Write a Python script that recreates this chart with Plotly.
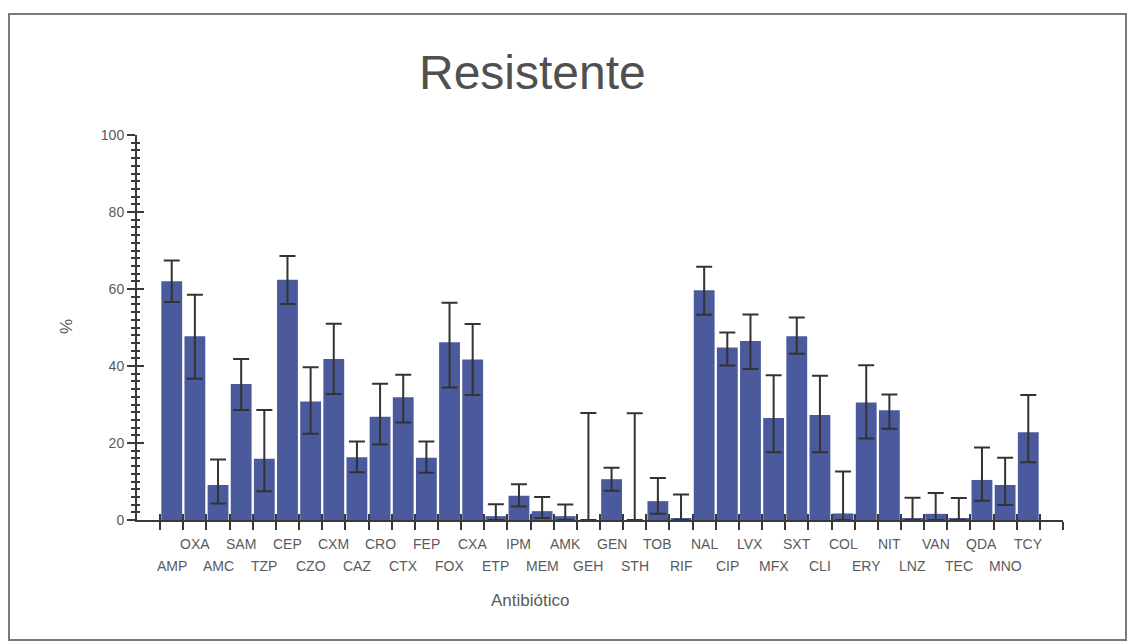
import numpy as np
import plotly.graph_objects as go

# Antibiotic codes, in plotting order
categories = ["AMP", "OXA", "AMC", "SAM", "TZP", "CEP", "CZO", "CXM", "CAZ", "CRO",
              "CTX", "FEP", "FOX", "CXA", "ETP", "IPM", "MEM", "AMK", "GEH", "GEN",
              "STH", "TOB", "RIF", "NAL", "CIP", "LVX", "MFX", "SXT", "CLI", "COL",
              "ERY", "NIT", "LNZ", "VAN", "TEC", "QDA", "MNO", "TCY"]

# Percentage resistant
resist_pct = [62.0, 47.7, 9.1, 35.3, 15.9, 62.4, 30.8, 41.8, 16.3, 26.8,
              31.9, 16.2, 46.2, 41.7, 1.0, 6.3, 2.3, 1.0, 0.0, 10.6,
              0.0, 4.9, 0.5, 59.7, 44.8, 46.5, 26.5, 47.7, 27.3, 1.7,
              30.5, 28.5, 0.5, 1.6, 0.5, 10.4, 9.1, 22.8]

# Confidence interval bounds (%)
ci_low = [56.6, 36.7, 4.3, 28.6, 7.5, 56.1, 22.4, 32.7, 12.4, 19.6,
          25.3, 12.3, 34.4, 32.5, 0.0, 3.5, 0.5, 0.0, 0.0, 7.6,
          0.0, 1.6, 0.0, 53.3, 40.1, 39.2, 17.6, 43.2, 17.6, 0.0,
          21.2, 23.7, 0.0, 0.0, 0.0, 5.0, 3.9, 15.0]
ci_high = [67.4, 58.5, 15.7, 41.8, 28.6, 68.6, 39.7, 51.0, 20.4, 35.4,
           37.7, 20.4, 56.4, 50.9, 4.1, 9.3, 6.0, 4.0, 27.8, 13.6,
           27.7, 10.9, 6.6, 65.8, 48.7, 53.4, 37.6, 52.6, 37.5, 12.6,
           40.2, 32.6, 5.8, 7.0, 5.7, 18.8, 16.2, 32.5]

y_ticks = [0, 20, 40, 60, 80, 100]

# Figure geometry (pixels)
W, H = 1128, 642
ML, MR, MT, MB = 137, 65, 135, 122
PW, PH = W - ML - MR, H - MT - MB


def px_x(px):
    return (px - ML) / PW


def px_y(py):
    return (H - MB - py) / PH


n = len(categories)
xpos = np.arange(n)
vals = np.array(resist_pct)
err_plus = np.array(ci_high) - vals
err_minus = vals - np.array(ci_low)

AXIS = "#3a3a3a"
TEXT = "#5a5a5a"
FONT = "Liberation Sans, Arial, sans-serif"
x_range = [-1.5, n + 0.5]
boundaries = list(np.arange(-0.5, n + 0.51, 1.0))

fig = go.Figure()
fig.add_trace(go.Bar(
    x=xpos, y=vals,
    marker=dict(color="#4a5a9c", line=dict(width=0)),
    error_y=dict(type="data", symmetric=False, array=err_plus, arrayminus=err_minus,
                 color="#333333", thickness=2, width=8),
    showlegend=False, hoverinfo="skip",
))
# empty trace that carries the overlay axes used for the inward half of each tick
fig.add_trace(go.Scatter(x=[None], y=[None], xaxis="x2", yaxis="y2",
                         showlegend=False, hoverinfo="skip"))

fig.update_layout(
    width=W, height=H,
    margin=dict(l=ML, r=MR, t=MT, b=MB),
    paper_bgcolor="white", plot_bgcolor="white",
    bargap=0.1,
    font=dict(family=FONT, color=TEXT),
    xaxis=dict(range=x_range, showgrid=False, zeroline=False,
               showline=True, linecolor=AXIS, linewidth=2,
               tickmode="array", tickvals=boundaries, showticklabels=False,
               ticks="outside", ticklen=8, tickwidth=2, tickcolor=AXIS),
    yaxis=dict(range=[0, 100], showgrid=False, zeroline=False,
               showline=True, linecolor=AXIS, linewidth=2,
               tickmode="array", tickvals=y_ticks,
               ticks="outside", ticklen=8, tickwidth=2, tickcolor=AXIS,
               tickfont=dict(size=14, color=TEXT, family=FONT),
               minor=dict(dtick=2, tick0=0, ticks="outside", ticklen=4,
                          tickwidth=1.5, tickcolor=AXIS, showgrid=False)),
    xaxis2=dict(range=x_range, overlaying="x", anchor="y2", side="bottom",
                showgrid=False, zeroline=False, showline=False,
                tickmode="array", tickvals=boundaries, showticklabels=False,
                ticks="inside", ticklen=6, tickwidth=2, tickcolor=AXIS),
    yaxis2=dict(range=[0, 100], overlaying="y", anchor="x2", side="left",
                showgrid=False, zeroline=False, showline=False,
                tickmode="array", tickvals=y_ticks, showticklabels=False,
                ticks="inside", ticklen=7, tickwidth=2, tickcolor=AXIS,
                minor=dict(dtick=2, tick0=0, ticks="inside", ticklen=3,
                           tickwidth=1.5, tickcolor=AXIS, showgrid=False)),
)

# staggered category labels: even positions on the lower row, odd on the upper row
for i, name in enumerate(categories):
    fig.add_annotation(x=i, xref="x", y=0, yref="paper", text=name,
                       showarrow=False, yanchor="middle", xanchor="center",
                       yshift=-24 if i % 2 else -46,
                       font=dict(size=14, color=TEXT, family=FONT))

fig.add_annotation(x=px_x(532), y=px_y(72), xref="paper", yref="paper",
                   text="Resistente", showarrow=False,
                   xanchor="center", yanchor="middle",
                   font=dict(size=48, color="#505050", family=FONT))
fig.add_annotation(x=px_x(530), y=px_y(600), xref="paper", yref="paper",
                   text="Antibiótico", showarrow=False,
                   xanchor="center", yanchor="middle",
                   font=dict(size=17, color=TEXT, family=FONT))
fig.add_annotation(x=px_x(66), y=px_y(327), xref="paper", yref="paper",
                   text="%", showarrow=False, textangle=-90,
                   xanchor="center", yanchor="middle",
                   font=dict(size=17, color=TEXT, family=FONT))

# outer frame
fig.add_shape(type="rect", xref="paper", yref="paper",
              x0=px_x(9), x1=px_x(1126), y0=px_y(640), y1=px_y(14),
              line=dict(color="#7a7a7a", width=2), fillcolor="rgba(0,0,0,0)")

fig.write_html("out.html")
